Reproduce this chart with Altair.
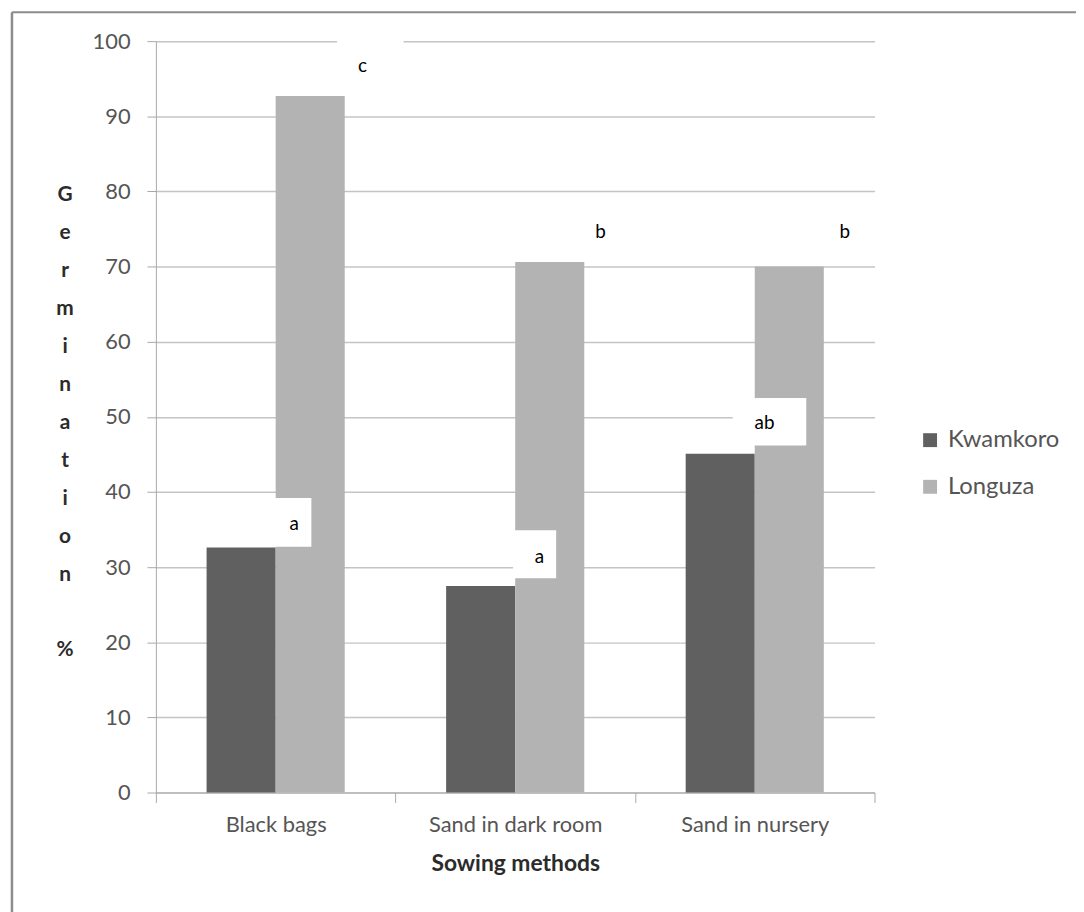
import altair as alt
import pandas as pd

# ---- data ----
methods = ["Black bags", "Sand in dark room", "Sand in nursery"]
series = ["Kwamkoro", "Longuza"]
kwamkoro = [32.6, 27.5, 45.1]
longuza = [92.7, 70.6, 70.0]
colors = ["#606060", "#b3b3b3"]

# significance letters (x in category units 0..3, y in % units)
letters = ["a", "c", "a", "b", "ab", "b"]
letter_u = [0.577, 0.863, 1.601, 1.856, 2.541, 2.876]
letter_v = [35.7, 96.7, 31.4, 74.6, 49.2, 74.6]

# white label boxes behind some letters
box_u1 = [0.467, 0.756, 1.491, 2.408]
box_u2 = [0.649, 1.034, 1.671, 2.715]
box_v1 = [32.7, 93.2, 28.5, 46.2]
box_v2 = [39.2, 101.0, 34.9, 52.5]

y_title = ["G", "e", "r", "m", "i", "n", "a", "t", "i", "o", "n", "\u2800", "%"]

FONT = "Lato"
LABEL_COLOR = "#555555"
TITLE_COLOR = "#2b2b2b"

bars_df = pd.DataFrame({
    "method": methods * 2,
    "series": [s for s in series for _ in methods],
    "value": kwamkoro + longuza,
})

y_axis = alt.Axis(
    values=list(range(0, 101, 10)), title=y_title, titleAngle=0,
    titleAlign="center", titleBaseline="alphabetic",
    titleX=-92, titleY=161, titleLineHeight=38.2,
    titleFont=FONT, titleFontSize=21, titleFontWeight="bold",
    titleColor=TITLE_COLOR,
    grid=True, gridColor="#c4c4c4", gridWidth=1.5,
    domainColor="#a8a8a8", tickColor="#a8a8a8", tickSize=9,
    labelPadding=17, labelFont=FONT, labelFontSize=22,
    labelColor=LABEL_COLOR,
)
y_scale = alt.Scale(domain=[0, 100], nice=False)

bars = alt.Chart(bars_df).mark_bar(strokeWidth=0).encode(
    x=alt.X(
        "method:N", sort=methods,
        scale=alt.Scale(paddingInner=0, paddingOuter=0),
        axis=alt.Axis(
            title="Sowing methods", labelAngle=0, tickBand="extent",
            grid=False, domainColor="#a8a8a8", tickColor="#a8a8a8",
            tickSize=10, labelPadding=12, labelFont=FONT, labelFontSize=22,
            labelColor=LABEL_COLOR, titleFont=FONT, titleFontSize=23,
            titleFontWeight="bold", titleColor=TITLE_COLOR, titlePadding=18,
        ),
    ),
    xOffset=alt.XOffset(
        "series:N", sort=series,
        scale=alt.Scale(paddingInner=0, paddingOuter=0.734),
    ),
    y=alt.Y("value:Q", scale=y_scale, axis=y_axis),
    color=alt.Color(
        "series:N", sort=series,
        scale=alt.Scale(domain=series, range=colors),
        legend=alt.Legend(
            title=None, orient="none", legendX=768, legendY=390,
            symbolType="square", symbolSize=196, symbolStrokeWidth=0,
            labelFont=FONT, labelFontSize=24, labelColor=LABEL_COLOR,
            labelOffset=6, rowPadding=23, padding=0,
        ),
    ),
)

u_scale = alt.Scale(domain=[0, 3], nice=False, zero=False)

box_df = pd.DataFrame({"u1": box_u1, "u2": box_u2, "value": box_v1, "top": box_v2})
boxes = alt.Chart(box_df).mark_rect(color="white").encode(
    x=alt.X("u1:Q", scale=u_scale, axis=None),
    x2="u2:Q",
    y=alt.Y("value:Q", scale=y_scale, axis=y_axis),
    y2="top:Q",
)

ann_df = pd.DataFrame({"label": letters, "u": letter_u, "value": letter_v})
text = alt.Chart(ann_df).mark_text(
    font=FONT, fontSize=19, color="#000000", align="center", baseline="middle"
).encode(
    x=alt.X("u:Q", scale=u_scale, axis=None),
    y=alt.Y("value:Q", scale=y_scale, axis=y_axis),
    text="label:N",
)

one = pd.DataFrame({"k": [0]})
frame_left = alt.Chart(one).mark_rule(color="#8c8c8c", strokeWidth=2.5).encode(
    x=alt.value(-145), y=alt.value(-29), y2=alt.value(880)
)
frame_top = alt.Chart(one).mark_rule(color="#8c8c8c", strokeWidth=2).encode(
    x=alt.value(-145), x2=alt.value(930), y=alt.value(-29)
)

chart = alt.layer(bars, boxes, text, frame_left, frame_top).resolve_scale(
    x="independent"
).properties(
    width=724, height=757,
    padding={"left": 149, "top": 30, "right": 203, "bottom": 117},
    autosize=alt.AutoSizeParams(type="none"),
    background="white",
).configure_view(stroke=None)

chart.save("out.html", embed_options={"renderer": "svg", "actions": False})
